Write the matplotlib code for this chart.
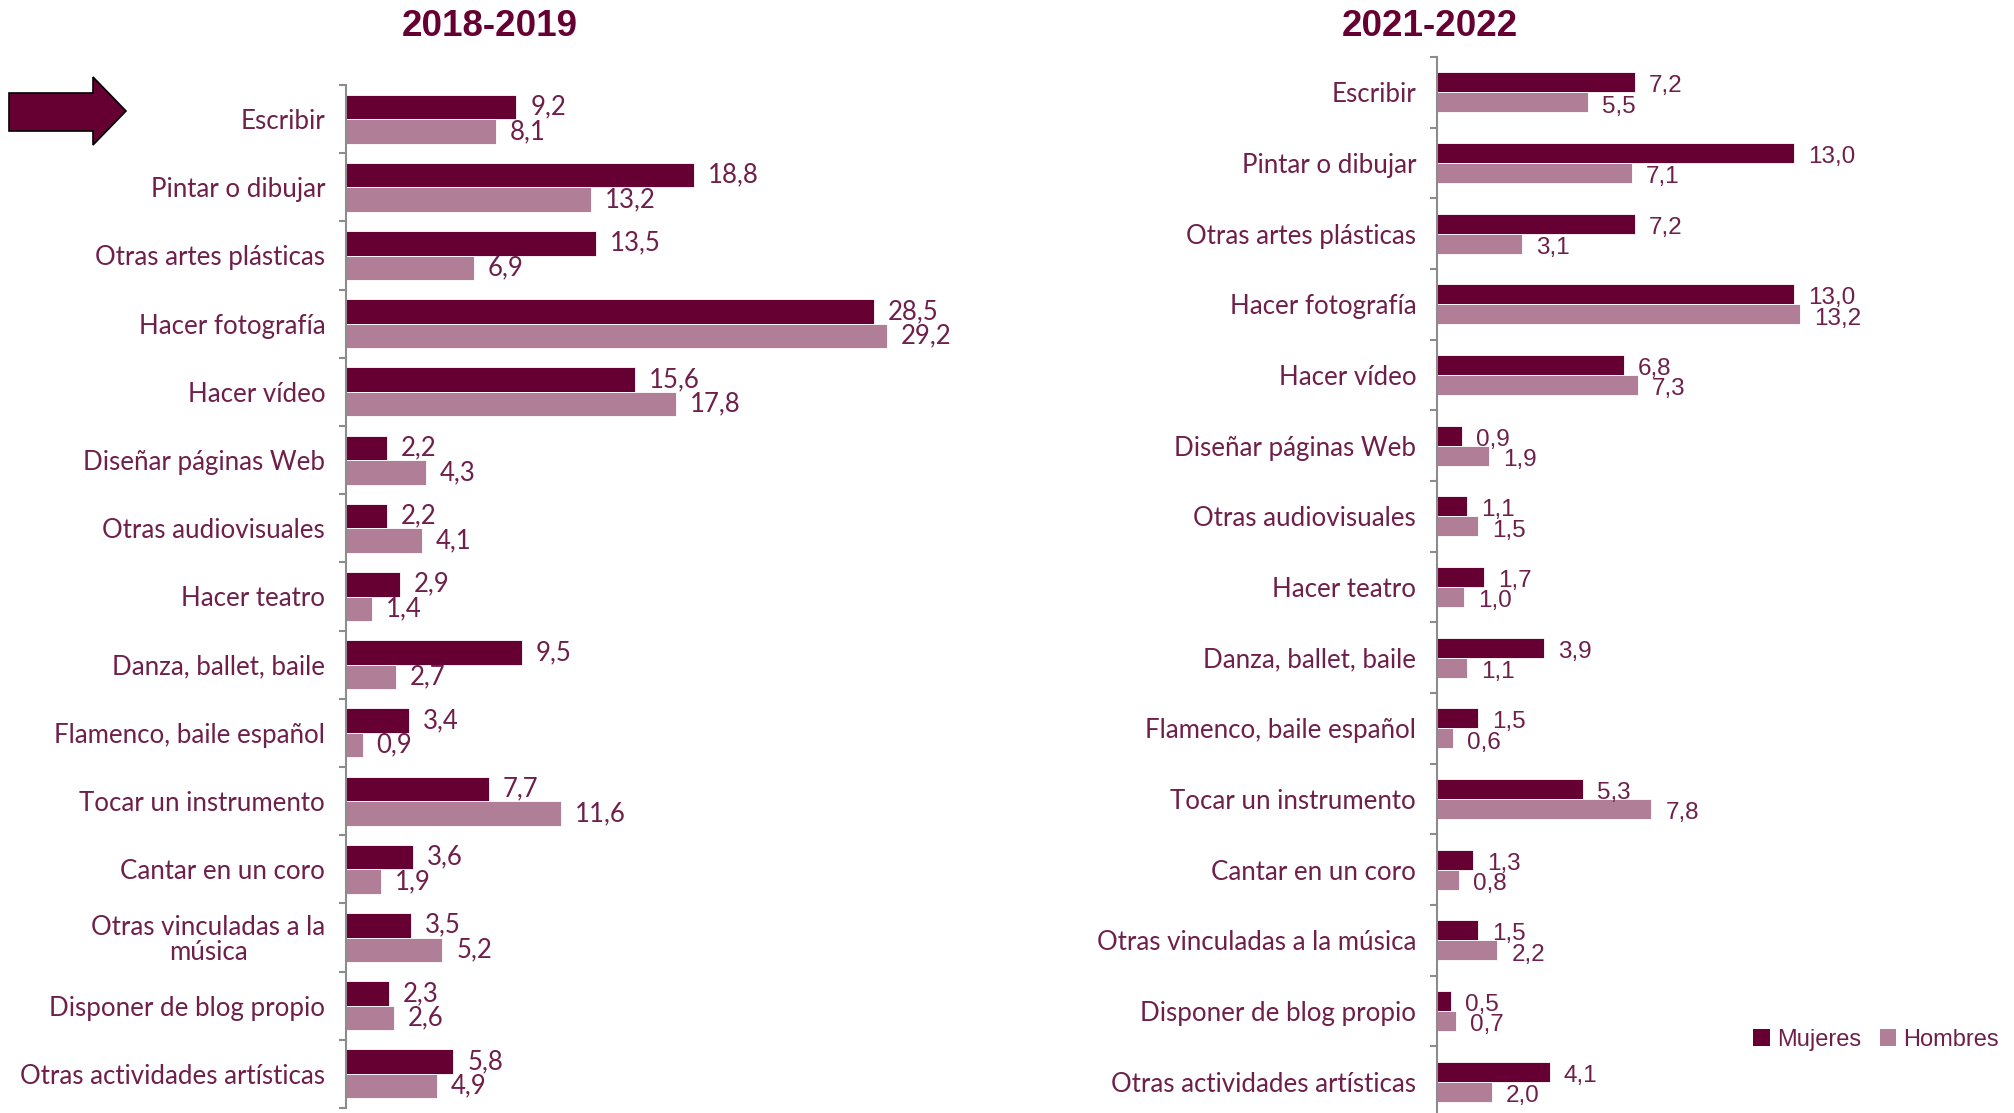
import matplotlib
matplotlib.use("Agg")
import matplotlib.pyplot as plt
from matplotlib import font_manager
from matplotlib.patches import Polygon, Patch
import numpy as np

categories_1819 = ["Escribir", "Pintar o dibujar", "Otras artes plásticas", "Hacer fotografía",
                   "Hacer vídeo", "Diseñar páginas Web", "Otras audiovisuales", "Hacer teatro",
                   "Danza, ballet, baile", "Flamenco, baile español", "Tocar un instrumento",
                   "Cantar en un coro", "Otras vinculadas a la\nmúsica", "Disponer de blog propio",
                   "Otras actividades artísticas"]
categories_2122 = ["Escribir", "Pintar o dibujar", "Otras artes plásticas", "Hacer fotografía",
                   "Hacer vídeo", "Diseñar páginas Web", "Otras audiovisuales", "Hacer teatro",
                   "Danza, ballet, baile", "Flamenco, baile español", "Tocar un instrumento",
                   "Cantar en un coro", "Otras vinculadas a la música", "Disponer de blog propio",
                   "Otras actividades artísticas"]
mujeres_1819 = [9.2, 18.8, 13.5, 28.5, 15.6, 2.2, 2.2, 2.9, 9.5, 3.4, 7.7, 3.6, 3.5, 2.3, 5.8]
hombres_1819 = [8.1, 13.2, 6.9, 29.2, 17.8, 4.3, 4.1, 1.4, 2.7, 0.9, 11.6, 1.9, 5.2, 2.6, 4.9]
mujeres_2122 = [7.2, 13.0, 7.2, 13.0, 6.8, 0.9, 1.1, 1.7, 3.9, 1.5, 5.3, 1.3, 1.5, 0.5, 4.1]
hombres_2122 = [5.5, 7.1, 3.1, 13.2, 7.3, 1.9, 1.5, 1.0, 1.1, 0.6, 7.8, 0.8, 2.2, 0.7, 2.0]
titles = ["2018-2019", "2021-2022"]
series_names = ["Mujeres", "Hombres"]

DARK = "#660033"
LIGHT = "#B07F97"
TXT = "#6E1F4A"

avail = {f.name for f in font_manager.fontManager.ttflist}
label_font = "Lato" if "Lato" in avail else "DejaVu Sans"
num_font_r = "Liberation Sans" if "Liberation Sans" in avail else "DejaVu Sans"
title_font = "Liberation Sans Narrow" if "Liberation Sans Narrow" in avail else "Liberation Sans"
title_size = 31 if title_font == "Liberation Sans Narrow" else 26.5

W, H = 2015, 1113
fig = plt.figure(figsize=(W / 100, H / 100), dpi=100)


def px_axes(x0, top, x1, bottom):
    return fig.add_axes([x0 / W, 1 - bottom / H, (x1 - x0) / W, (bottom - top) / H])


def panel(ax, cats, muj, hom, xmax, bh, title, numfont, numsize, dy, title_xy):
    n = len(cats)
    y = np.arange(n)
    ax.barh(y - bh / 2, muj, height=bh, color=DARK, edgecolor="white", linewidth=0.6)
    ax.barh(y + bh / 2, hom, height=bh, color=LIGHT, edgecolor="white", linewidth=0.6)
    ax.set_xlim(0, xmax)
    ax.set_ylim(n - 0.5, -0.5)
    for yy, v in zip(y, muj):
        ax.annotate(f"{v:.1f}".replace(".", ","), (v, yy - bh / 2), xytext=(10, dy),
                    textcoords="offset points", va="center", ha="left",
                    color=TXT, fontsize=numsize, family=numfont)
    for yy, v in zip(y, hom):
        ax.annotate(f"{v:.1f}".replace(".", ","), (v, yy + bh / 2), xytext=(10, dy),
                    textcoords="offset points", va="center", ha="left",
                    color=TXT, fontsize=numsize, family=numfont)
    ax.set_yticks(y)
    labels = ax.set_yticklabels(cats, family=label_font, fontsize=18.6, color=TXT, linespacing=1.0)
    for lab in labels:
        lab.set_multialignment("center")
    ax.tick_params(axis="y", which="major", length=0, pad=15)
    ax.set_yticks(np.arange(n + 1) - 0.5, minor=True)
    ax.tick_params(axis="y", which="minor", length=5, width=1.5, color="#8C8C8C", direction="out")
    ax.set_xticks([])
    for s in ["top", "right", "bottom"]:
        ax.spines[s].set_visible(False)
    ax.spines["left"].set_color("#8C8C8C")
    ax.spines["left"].set_linewidth(1.5)
    fig.text(title_xy[0] / W, 1 - title_xy[1] / H, title, ha="center", va="center",
             fontsize=title_size, fontweight="bold", color=DARK, family=title_font)


ax1 = px_axes(346, 85, 346 + 35 * 18.53, 1108)
panel(ax1, categories_1819, mujeres_1819, hombres_1819, 35, 0.36, titles[0],
      label_font, 18.5, 0, (490, 27))

ax2 = px_axes(1437, 57, 1437 + 17 * 27.5, 1117)
panel(ax2, categories_2122, mujeres_2122, hombres_2122, 17, 0.285, titles[1],
      num_font_r, 17.5, -3, (1430, 27))

# decorative arrow pointing at "Escribir"
arrow_px = [(9, 93), (93, 93), (93, 77), (126, 111), (93, 145), (93, 131), (9, 131)]
arrow = Polygon([(x / W, 1 - y / H) for x, y in arrow_px], closed=True,
                transform=fig.transFigure, facecolor=DARK, edgecolor="black", linewidth=1.2)
fig.add_artist(arrow)

handles = [Patch(facecolor=DARK), Patch(facecolor=LIGHT)]
fig.legend(handles, series_names, loc="center", bbox_to_anchor=(1876 / W, 1 - 1040 / H),
           ncol=2, frameon=False, prop={"family": num_font_r, "size": 17},
           labelcolor=TXT, handlelength=0.7, handleheight=0.7, handletextpad=0.3,
           columnspacing=0.8)

fig.savefig("out.png", dpi=100)
